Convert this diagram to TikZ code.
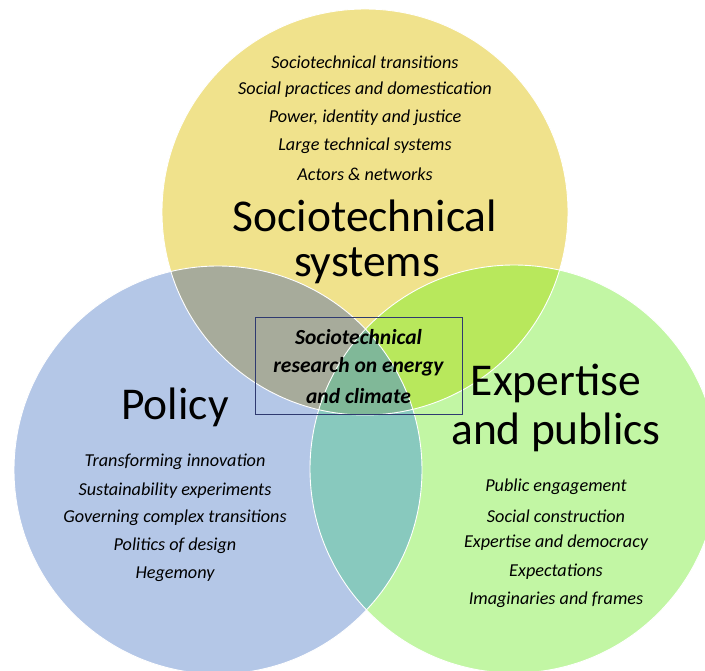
\documentclass[tikz,border=0pt]{standalone}
\usepackage{fontspec}
\setmainfont{Carlito}
\definecolor{cY}{RGB}{240,226,140}
\definecolor{cB}{RGB}{180,199,231}
\definecolor{cG}{RGB}{194,246,164}
\definecolor{cYB}{RGB}{167,171,155}
\definecolor{cYG}{RGB}{184,232,92}
\definecolor{cBG}{RGB}{136,201,190}
\definecolor{cYBG}{RGB}{128,184,152}
\definecolor{boxline}{RGB}{47,58,112}
\tikzset{
  listitem/.style={font=\itshape\fontsize{18.2}{20}\selectfont, inner sep=0pt, text=black},
  bigtitle/.style={font=\fontsize{45.5}{50}\selectfont, inner sep=0pt, text=black},
  centertext/.style={font=\bfseries\itshape\fontsize{21.5}{24}\selectfont, inner sep=0pt, text=black},
  ring/.style={draw=white, line width=0.9pt}
}
\begin{document}
\begin{tikzpicture}[x=1pt,y=-1pt]
\useasboundingbox (0,0) rectangle (705,671);
\clip (0,0) rectangle (705,671);
\fill[white] (0,0) rectangle (705,671);
% circle geometry
\def\ycirc{(365,212) circle (203)}
\def\bcirc{(218,470) circle (204)}
\def\gcirc{(514,469) circle (204)}
\fill[cY] \ycirc;
\fill[cB] \bcirc;
\fill[cG] \gcirc;
\begin{scope}\clip \ycirc; \fill[cYB] \bcirc; \end{scope}
\begin{scope}\clip \ycirc; \fill[cYG] \gcirc; \end{scope}
\begin{scope}\clip \bcirc; \fill[cBG] \gcirc; \end{scope}
\begin{scope}\clip \ycirc; \clip \bcirc; \fill[cYBG] \gcirc; \end{scope}
\draw[ring] \ycirc;
\draw[ring] \bcirc;
\draw[ring] \gcirc;
% top circle
\node[listitem] (t1) at (365,62) {Sociotechnical transitions};
\node[listitem] (t2) at (365,90) {Social practices and domestication};
\node[listitem] (t3) at (365,118) {Power, identity and justice};
\node[listitem] (t4) at (365,146) {Large technical systems};
\node[listitem] (t5) at (365,174) {Actors \& networks};
\node[bigtitle] (st1) at (365,216) {Sociotechnical};
\node[bigtitle] (st2) at (367,266) {systems};
% policy
\node[bigtitle] (pol) at (175,407) {Policy};
\node[listitem] (p1) at (175,462) {Transforming innovation};
\node[listitem] (p2) at (175,491) {Sustainability experiments};
\node[listitem] (p3) at (175,518) {Governing complex transitions};
\node[listitem] (p4) at (175,546) {Politics of design};
\node[listitem] (p5) at (175,574) {Hegemony};
% expertise
\node[bigtitle] (ex1) at (556,383) {Expertise};
\node[bigtitle] (ex2) at (556,432) {and publics};
\node[listitem] (e1) at (556,487) {Public engagement};
\node[listitem] (e2) at (556,516) {Social construction};
\node[listitem] (e3) at (556,543) {Expertise and democracy};
\node[listitem] (e4) at (556,572) {Expectations};
\node[listitem] (e5) at (556,600) {Imaginaries and frames};
% centre box
\node[draw=boxline, line width=0.8pt, minimum width=207pt, minimum height=97pt, inner sep=0pt] (box) at (358.5,365.5) {};
\node[centertext] (c1) at (358.5,337) {Sociotechnical};
\node[centertext] (c2) at (358.5,367) {research on energy};
\node[centertext] (c3) at (358.5,396) {and climate};
\end{tikzpicture}
\end{document}
